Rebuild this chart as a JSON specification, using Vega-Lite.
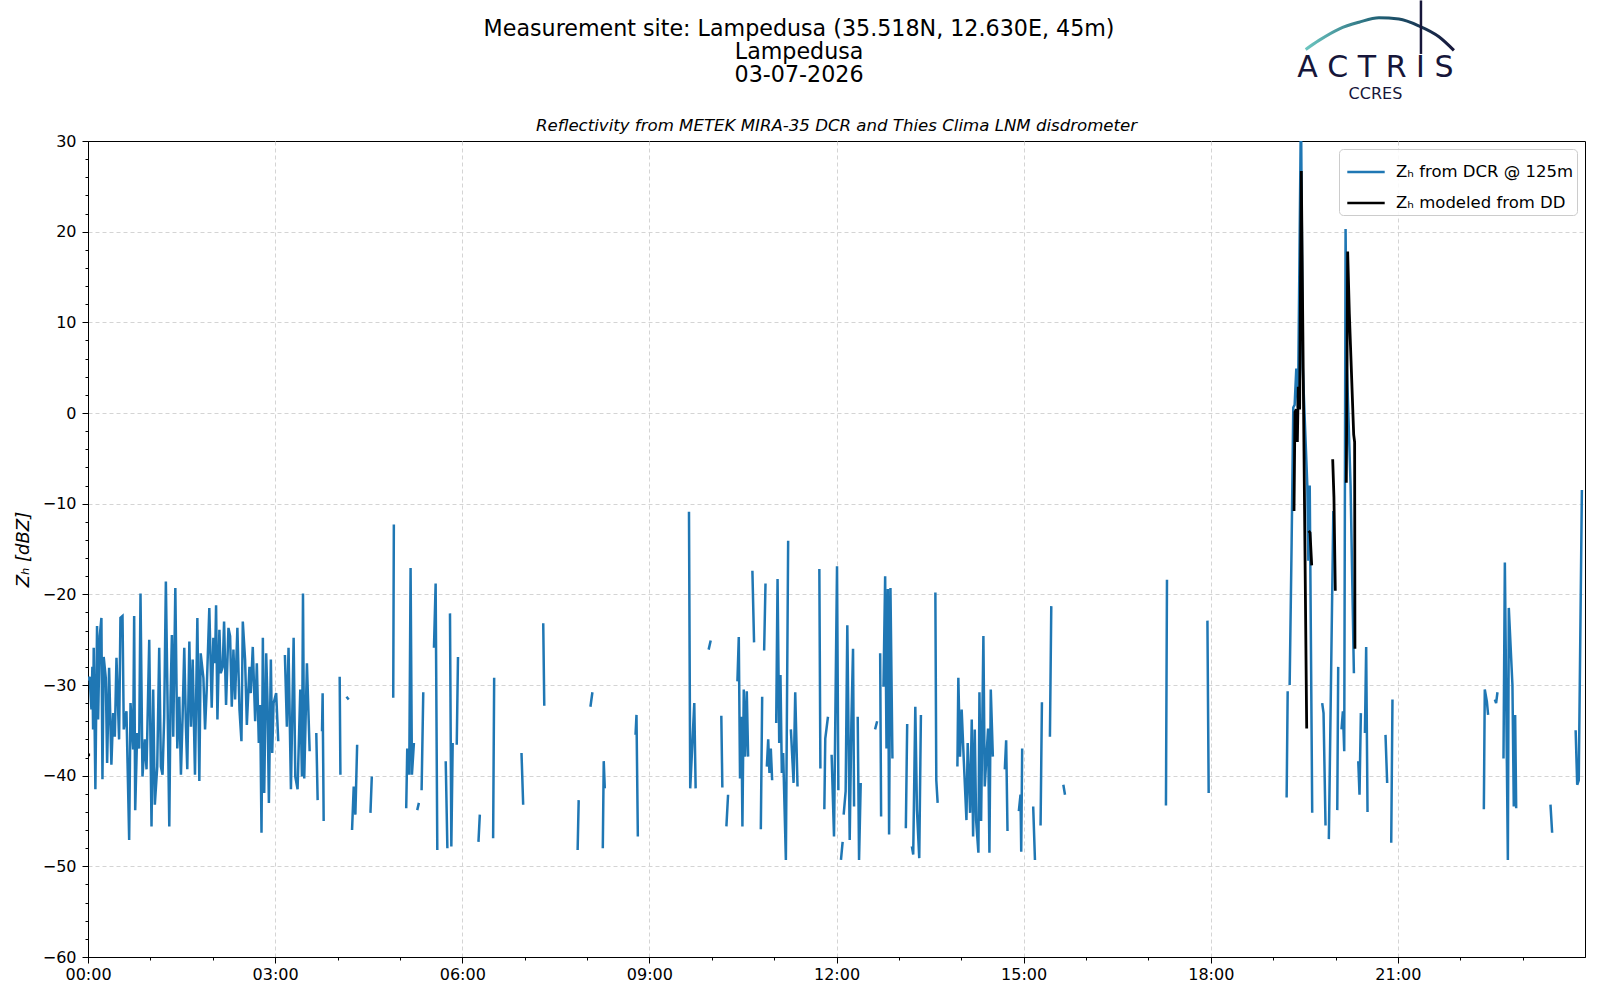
{
  "$schema": "https://vega.github.io/schema/vega-lite/v6.json",
  "background": "white",
  "autosize": "none",
  "padding": {"left": 88, "top": 141, "right": 15, "bottom": 43},
  "width": 1497,
  "height": 816,
  "config": {
    "font": "DejaVu Sans",
    "view": {"stroke": "black", "strokeWidth": 1},
    "axis": {"labelFont": "DejaVu Sans", "titleFont": "DejaVu Sans", "labelColor": "black", "titleColor": "black", "tickColor": "black", "domainColor": "black"},
    "legend": {"labelFont": "DejaVu Sans"},
    "text": {"font": "DejaVu Sans"}
  },
  "data": {
    "values": [
      {"s": "dcr", "t": 0, "z": -29.5}, {"s": "dcr", "t": 1.6, "z": -29.1}, {"s": "dcr", "t": 3.3, "z": -32.7}, {"s": "dcr", "t": 4.2, "z": -28.0},
      {"s": "dcr", "t": 4.9, "z": -34.9}, {"s": "dcr", "t": 5.5, "z": -25.9}, {"s": "dcr", "t": 7.1, "z": -41.5}, {"s": "dcr", "t": 8.7, "z": -23.5},
      {"s": "dcr", "t": 9.7, "z": -33.8}, {"s": "dcr", "t": 11.3, "z": -24.6}, {"s": "dcr", "t": 12.9, "z": -22.6}, {"s": "dcr", "t": 13.9, "z": -40.4},
      {"s": "dcr", "t": 15.1, "z": -26.9}, {"s": "dcr", "t": 17.1, "z": -29.2}, {"s": "dcr", "t": 18.4, "z": -38.6}, {"s": "dcr", "t": 20.3, "z": -28.1},
      {"s": "dcr", "t": 22.5, "z": -38.8}, {"s": "dcr", "t": 24.2, "z": -33.1}, {"s": "dcr", "t": 25.8, "z": -35.7}, {"s": "dcr", "t": 27.4, "z": -27.0},
      {"s": "dcr", "t": 29.9, "z": -36.0}, {"s": "dcr", "t": 31.2, "z": -22.6}, {"s": "dcr", "t": 33.2, "z": -22.4}, {"s": "dcr", "t": 34.4, "z": -34.9},
      {"s": "dcr", "t": 37.0, "z": -32.9}, {"s": "dcr", "t": 39.6, "z": -47.1}, {"s": "dcr", "t": 40.9, "z": -32.0}, {"s": "dcr", "t": 43.4, "z": -37.1},
      {"s": "dcr", "t": 44.4, "z": -22.4}, {"s": "dcr", "t": 45.4, "z": -43.8}, {"s": "dcr", "t": 47.3, "z": -35.3}, {"s": "dcr", "t": 49.2, "z": -37.0},
      {"s": "dcr", "t": 50.5, "z": -19.9}, {"s": "dcr", "t": 52.4, "z": -40.1}, {"s": "dcr", "t": 54.7, "z": -36.0}, {"s": "dcr", "t": 56.3, "z": -39.3},
      {"s": "dcr", "t": 58.9, "z": -25.0}, {"s": "dcr", "t": 61.1, "z": -45.6}, {"s": "dcr", "t": 62.7, "z": -30.5}, {"s": "dcr", "t": 64.3, "z": -43.2},
      {"s": "dcr", "t": 66.6, "z": -39.0}, {"s": "dcr", "t": 68.5, "z": -25.9}, {"s": "dcr", "t": 70.1, "z": -39.0}, {"s": "dcr", "t": 71.7, "z": -39.9},
      {"s": "dcr", "t": 73.3, "z": -33.5}, {"s": "dcr", "t": 74.9, "z": -18.6}, {"s": "dcr", "t": 78.2, "z": -45.6}, {"s": "dcr", "t": 79.4, "z": -31.4},
      {"s": "dcr", "t": 80.7, "z": -24.5}, {"s": "dcr", "t": 82.0, "z": -35.7}, {"s": "dcr", "t": 84.0, "z": -19.3}, {"s": "dcr", "t": 85.9, "z": -37.0},
      {"s": "dcr", "t": 87.8, "z": -31.3}, {"s": "dcr", "t": 89.4, "z": -39.9}, {"s": "dcr", "t": 91.0, "z": -33.5}, {"s": "dcr", "t": 92.6, "z": -25.9},
      {"s": "dcr", "t": 94.2, "z": -34.6}, {"s": "dcr", "t": 95.5, "z": -39.3}, {"s": "dcr", "t": 97.5, "z": -25.2}, {"s": "dcr", "t": 99.1, "z": -34.6},
      {"s": "dcr", "t": 100.7, "z": -27.2}, {"s": "dcr", "t": 102.9, "z": -39.9}, {"s": "dcr", "t": 105.2, "z": -22.6}, {"s": "dcr", "t": 107.1, "z": -40.6},
      {"s": "dcr", "t": 108.4, "z": -26.5}, {"s": "dcr", "t": 111.0, "z": -29.2}, {"s": "dcr", "t": 112.6, "z": -34.9}, {"s": "dcr", "t": 114.2, "z": -30.5},
      {"s": "dcr", "t": 116.7, "z": -21.5}, {"s": "dcr", "t": 119.0, "z": -32.5}, {"s": "dcr", "t": 120.6, "z": -24.8}, {"s": "dcr", "t": 122.2, "z": -27.6},
      {"s": "dcr", "t": 123.2, "z": -21.2}, {"s": "dcr", "t": 124.5, "z": -33.8}, {"s": "dcr", "t": 126.4, "z": -23.9}, {"s": "dcr", "t": 127.7, "z": -28.7},
      {"s": "dcr", "t": 129.6, "z": -28.0}, {"s": "dcr", "t": 130.9, "z": -23.0}, {"s": "dcr", "t": 132.8, "z": -32.2}, {"s": "dcr", "t": 135.1, "z": -23.7},
      {"s": "dcr", "t": 136.7, "z": -24.6}, {"s": "dcr", "t": 138.3, "z": -32.4}, {"s": "dcr", "t": 139.9, "z": -26.1}, {"s": "dcr", "t": 141.5, "z": -31.6},
      {"s": "dcr", "t": 143.7, "z": -23.7}, {"s": "dcr", "t": 145.7, "z": -32.7}, {"s": "dcr", "t": 147.6, "z": -36.2}, {"s": "dcr", "t": 148.9, "z": -23.0},
      {"s": "dcr", "t": 151.1, "z": -27.2}, {"s": "dcr", "t": 152.8, "z": -34.4}, {"s": "dcr", "t": 155.3, "z": -28.0}, {"s": "dcr", "t": 156.6, "z": -30.9},
      {"s": "dcr", "t": 158.5, "z": -25.8}, {"s": "dcr", "t": 160.8, "z": -34.0}, {"s": "dcr", "t": 162.4, "z": -27.6}, {"s": "dcr", "t": 164.3, "z": -36.4},
      {"s": "dcr", "t": 165.6, "z": -32.2}, {"s": "dcr", "t": 166.9, "z": -46.3}, {"s": "dcr", "t": 168.2, "z": -24.8}, {"s": "dcr", "t": 169.5, "z": -41.9},
      {"s": "dcr", "t": 171.4, "z": -26.5}, {"s": "dcr", "t": 172.7, "z": -32.0}, {"s": "dcr", "t": 174.0, "z": -43.0}, {"s": "dcr", "t": 175.9, "z": -27.2},
      {"s": "dcr", "t": 177.2, "z": -37.5}, {"s": "dcr", "t": 178.5, "z": -32.0}, {"s": "dcr", "t": 181.0, "z": -30.9}, {"s": "dcr", "t": 183.0, "z": -36.2},
      {"s": "dcr", "t": 183.2, "z": null},
      {"s": "dcr", "t": 189.4, "z": -26.7}, {"s": "dcr", "t": 191.3, "z": -34.6}, {"s": "dcr", "t": 192.9, "z": -25.9}, {"s": "dcr", "t": 195.2, "z": -41.5},
      {"s": "dcr", "t": 197.8, "z": -24.8}, {"s": "dcr", "t": 199.4, "z": -40.1}, {"s": "dcr", "t": 201.6, "z": -41.5}, {"s": "dcr", "t": 204.2, "z": -30.5},
      {"s": "dcr", "t": 205.8, "z": -40.1}, {"s": "dcr", "t": 206.8, "z": -19.9}, {"s": "dcr", "t": 208.0, "z": -40.3}, {"s": "dcr", "t": 210.6, "z": -27.6},
      {"s": "dcr", "t": 213.2, "z": -37.3}, {"s": "dcr", "t": 213.4, "z": null},
      {"s": "dcr", "t": 219.6, "z": -35.3}, {"s": "dcr", "t": 220.9, "z": -42.7}, {"s": "dcr", "t": 221.1, "z": null},
      {"s": "dcr", "t": 225.1, "z": -35.1}, {"s": "dcr", "t": 225.7, "z": -30.9}, {"s": "dcr", "t": 226.7, "z": -45.0}, {"s": "dcr", "t": 226.9, "z": null},
      {"s": "dcr", "t": 242.1, "z": -29.1}, {"s": "dcr", "t": 242.8, "z": -39.9}, {"s": "dcr", "t": 243.0, "z": null},
      {"s": "dcr", "t": 248.6, "z": -31.3}, {"s": "dcr", "t": 250.8, "z": -31.6}, {"s": "dcr", "t": 251.0, "z": null},
      {"s": "dcr", "t": 254.0, "z": -46.0}, {"s": "dcr", "t": 255.6, "z": -41.2}, {"s": "dcr", "t": 257.2, "z": -44.3}, {"s": "dcr", "t": 258.9, "z": -36.6}, {"s": "dcr", "t": 259.1, "z": null},
      {"s": "dcr", "t": 271.7, "z": -44.1}, {"s": "dcr", "t": 273.0, "z": -40.1}, {"s": "dcr", "t": 273.2, "z": null},
      {"s": "dcr", "t": 293.6, "z": -31.4}, {"s": "dcr", "t": 294.2, "z": -12.3}, {"s": "dcr", "t": 294.4, "z": null},
      {"s": "dcr", "t": 306.1, "z": -43.6}, {"s": "dcr", "t": 307.1, "z": -37.0}, {"s": "dcr", "t": 309.0, "z": -39.9}, {"s": "dcr", "t": 310.3, "z": -17.1},
      {"s": "dcr", "t": 311.6, "z": -39.9}, {"s": "dcr", "t": 313.5, "z": -36.4}, {"s": "dcr", "t": 313.7, "z": null},
      {"s": "dcr", "t": 316.7, "z": -43.8}, {"s": "dcr", "t": 318.3, "z": -43.0}, {"s": "dcr", "t": 318.5, "z": null},
      {"s": "dcr", "t": 320.9, "z": -41.6}, {"s": "dcr", "t": 322.5, "z": -30.8}, {"s": "dcr", "t": 322.7, "z": null},
      {"s": "dcr", "t": 332.8, "z": -25.9}, {"s": "dcr", "t": 334.4, "z": -18.8}, {"s": "dcr", "t": 336.0, "z": -48.2}, {"s": "dcr", "t": 336.2, "z": null},
      {"s": "dcr", "t": 344.1, "z": -38.4}, {"s": "dcr", "t": 345.7, "z": -48.0}, {"s": "dcr", "t": 345.9, "z": null},
      {"s": "dcr", "t": 348.2, "z": -22.1}, {"s": "dcr", "t": 349.5, "z": -47.8}, {"s": "dcr", "t": 350.8, "z": -36.4}, {"s": "dcr", "t": 351.0, "z": null},
      {"s": "dcr", "t": 354.7, "z": -36.6}, {"s": "dcr", "t": 355.9, "z": -26.9}, {"s": "dcr", "t": 356.1, "z": null},
      {"s": "dcr", "t": 375.6, "z": -47.3}, {"s": "dcr", "t": 376.9, "z": -44.3}, {"s": "dcr", "t": 377.1, "z": null},
      {"s": "dcr", "t": 389.7, "z": -46.9}, {"s": "dcr", "t": 390.7, "z": -29.2}, {"s": "dcr", "t": 390.9, "z": null},
      {"s": "dcr", "t": 417.0, "z": -37.5}, {"s": "dcr", "t": 418.6, "z": -43.2}, {"s": "dcr", "t": 418.8, "z": null},
      {"s": "dcr", "t": 437.9, "z": -23.2}, {"s": "dcr", "t": 438.9, "z": -32.3}, {"s": "dcr", "t": 439.1, "z": null},
      {"s": "dcr", "t": 471.0, "z": -48.2}, {"s": "dcr", "t": 472.0, "z": -42.7}, {"s": "dcr", "t": 472.2, "z": null},
      {"s": "dcr", "t": 483.3, "z": -32.4}, {"s": "dcr", "t": 485.2, "z": -30.8}, {"s": "dcr", "t": 485.4, "z": null},
      {"s": "dcr", "t": 495.2, "z": -48.0}, {"s": "dcr", "t": 496.1, "z": -38.4}, {"s": "dcr", "t": 497.1, "z": -41.4}, {"s": "dcr", "t": 497.3, "z": null},
      {"s": "dcr", "t": 526.7, "z": -35.5}, {"s": "dcr", "t": 527.6, "z": -33.3}, {"s": "dcr", "t": 528.9, "z": -46.7}, {"s": "dcr", "t": 529.1, "z": null},
      {"s": "dcr", "t": 578.1, "z": -10.9}, {"s": "dcr", "t": 579.3, "z": -41.4}, {"s": "dcr", "t": 583.2, "z": -32.0}, {"s": "dcr", "t": 584.5, "z": -41.4}, {"s": "dcr", "t": 584.7, "z": null},
      {"s": "dcr", "t": 597.0, "z": -26.1}, {"s": "dcr", "t": 599.0, "z": -25.1}, {"s": "dcr", "t": 599.2, "z": null},
      {"s": "dcr", "t": 609.2, "z": -33.4}, {"s": "dcr", "t": 610.2, "z": -41.3}, {"s": "dcr", "t": 610.4, "z": null},
      {"s": "dcr", "t": 614.1, "z": -45.6}, {"s": "dcr", "t": 615.7, "z": -42.1}, {"s": "dcr", "t": 615.9, "z": null},
      {"s": "dcr", "t": 624.7, "z": -29.6}, {"s": "dcr", "t": 626.0, "z": -24.7}, {"s": "dcr", "t": 627.2, "z": -40.3}, {"s": "dcr", "t": 628.5, "z": -33.5},
      {"s": "dcr", "t": 629.5, "z": -45.6}, {"s": "dcr", "t": 630.8, "z": -30.5}, {"s": "dcr", "t": 632.1, "z": -37.9}, {"s": "dcr", "t": 633.7, "z": -30.7},
      {"s": "dcr", "t": 635.0, "z": -37.9}, {"s": "dcr", "t": 635.2, "z": null},
      {"s": "dcr", "t": 639.1, "z": -17.4}, {"s": "dcr", "t": 640.7, "z": -25.3}, {"s": "dcr", "t": 640.9, "z": null},
      {"s": "dcr", "t": 647.2, "z": -45.9}, {"s": "dcr", "t": 648.5, "z": -31.3}, {"s": "dcr", "t": 648.7, "z": null},
      {"s": "dcr", "t": 650.4, "z": -26.2}, {"s": "dcr", "t": 651.7, "z": -18.8}, {"s": "dcr", "t": 651.9, "z": null},
      {"s": "dcr", "t": 653.0, "z": -39.0}, {"s": "dcr", "t": 654.3, "z": -36.0}, {"s": "dcr", "t": 655.5, "z": -39.7}, {"s": "dcr", "t": 656.8, "z": -37.0},
      {"s": "dcr", "t": 658.1, "z": -40.5}, {"s": "dcr", "t": 658.3, "z": null},
      {"s": "dcr", "t": 662.0, "z": -34.2}, {"s": "dcr", "t": 663.3, "z": -18.3}, {"s": "dcr", "t": 664.9, "z": -36.4}, {"s": "dcr", "t": 666.1, "z": -28.9},
      {"s": "dcr", "t": 667.4, "z": -39.7}, {"s": "dcr", "t": 668.7, "z": -37.5}, {"s": "dcr", "t": 671.3, "z": -49.3}, {"s": "dcr", "t": 673.5, "z": -14.1},
      {"s": "dcr", "t": 673.7, "z": null},
      {"s": "dcr", "t": 676.1, "z": -34.9}, {"s": "dcr", "t": 678.7, "z": -40.8}, {"s": "dcr", "t": 680.3, "z": -30.8}, {"s": "dcr", "t": 682.5, "z": -41.2},
      {"s": "dcr", "t": 682.7, "z": null},
      {"s": "dcr", "t": 703.5, "z": -17.2}, {"s": "dcr", "t": 704.5, "z": -39.2}, {"s": "dcr", "t": 704.7, "z": null},
      {"s": "dcr", "t": 708.3, "z": -43.7}, {"s": "dcr", "t": 709.2, "z": -35.9}, {"s": "dcr", "t": 711.8, "z": -33.5}, {"s": "dcr", "t": 712.0, "z": null},
      {"s": "dcr", "t": 715.3, "z": -37.7}, {"s": "dcr", "t": 717.6, "z": -46.7}, {"s": "dcr", "t": 720.5, "z": -16.9}, {"s": "dcr", "t": 721.8, "z": -41.6},
      {"s": "dcr", "t": 722.0, "z": null},
      {"s": "dcr", "t": 724.3, "z": -49.3}, {"s": "dcr", "t": 725.9, "z": -47.3}, {"s": "dcr", "t": 726.1, "z": null},
      {"s": "dcr", "t": 726.9, "z": -44.3}, {"s": "dcr", "t": 728.8, "z": -41.7}, {"s": "dcr", "t": 730.4, "z": -23.4}, {"s": "dcr", "t": 732.7, "z": -47.1},
      {"s": "dcr", "t": 734.3, "z": -34.2}, {"s": "dcr", "t": 735.9, "z": -26.0}, {"s": "dcr", "t": 736.9, "z": -43.4}, {"s": "dcr", "t": 737.1, "z": null},
      {"s": "dcr", "t": 740.4, "z": -33.5}, {"s": "dcr", "t": 741.7, "z": -49.3}, {"s": "dcr", "t": 743.3, "z": -40.8}, {"s": "dcr", "t": 743.5, "z": null},
      {"s": "dcr", "t": 757.1, "z": -34.9}, {"s": "dcr", "t": 759.1, "z": -34.0}, {"s": "dcr", "t": 759.3, "z": null},
      {"s": "dcr", "t": 762.0, "z": -26.5}, {"s": "dcr", "t": 762.9, "z": -44.5}, {"s": "dcr", "t": 763.1, "z": null},
      {"s": "dcr", "t": 765.2, "z": -30.2}, {"s": "dcr", "t": 766.8, "z": -18.0}, {"s": "dcr", "t": 768.1, "z": -37.0}, {"s": "dcr", "t": 769.4, "z": -19.4},
      {"s": "dcr", "t": 770.6, "z": -46.5}, {"s": "dcr", "t": 771.9, "z": -19.3}, {"s": "dcr", "t": 773.8, "z": -38.1}, {"s": "dcr", "t": 774.0, "z": null},
      {"s": "dcr", "t": 786.7, "z": -45.8}, {"s": "dcr", "t": 788.0, "z": -34.3}, {"s": "dcr", "t": 788.2, "z": null},
      {"s": "dcr", "t": 792.5, "z": -47.8}, {"s": "dcr", "t": 793.8, "z": -48.7}, {"s": "dcr", "t": 795.8, "z": -32.4}, {"s": "dcr", "t": 797.4, "z": -43.8},
      {"s": "dcr", "t": 799.6, "z": -49.1}, {"s": "dcr", "t": 801.2, "z": -33.3}, {"s": "dcr", "t": 801.4, "z": null},
      {"s": "dcr", "t": 815.1, "z": -19.8}, {"s": "dcr", "t": 816.0, "z": -40.5}, {"s": "dcr", "t": 817.3, "z": -43.0}, {"s": "dcr", "t": 817.5, "z": null},
      {"s": "dcr", "t": 836.3, "z": -39.0}, {"s": "dcr", "t": 837.2, "z": -29.2}, {"s": "dcr", "t": 838.8, "z": -37.9}, {"s": "dcr", "t": 840.4, "z": -32.7},
      {"s": "dcr", "t": 842.4, "z": -38.2}, {"s": "dcr", "t": 845.0, "z": -44.9}, {"s": "dcr", "t": 846.2, "z": -36.4}, {"s": "dcr", "t": 848.5, "z": -44.1},
      {"s": "dcr", "t": 850.1, "z": -33.8}, {"s": "dcr", "t": 851.4, "z": -46.7}, {"s": "dcr", "t": 853.0, "z": -34.9}, {"s": "dcr", "t": 854.3, "z": -44.9},
      {"s": "dcr", "t": 856.5, "z": -48.5}, {"s": "dcr", "t": 857.5, "z": -30.8}, {"s": "dcr", "t": 859.1, "z": -45.0}, {"s": "dcr", "t": 861.3, "z": -24.6},
      {"s": "dcr", "t": 862.6, "z": -41.2}, {"s": "dcr", "t": 865.8, "z": -34.8}, {"s": "dcr", "t": 867.1, "z": -48.5}, {"s": "dcr", "t": 868.4, "z": -30.5},
      {"s": "dcr", "t": 870.4, "z": -37.9}, {"s": "dcr", "t": 870.6, "z": null},
      {"s": "dcr", "t": 881.9, "z": -39.3}, {"s": "dcr", "t": 883.2, "z": -36.1}, {"s": "dcr", "t": 884.5, "z": -46.1}, {"s": "dcr", "t": 884.7, "z": null},
      {"s": "dcr", "t": 895.4, "z": -43.9}, {"s": "dcr", "t": 897.0, "z": -42.1}, {"s": "dcr", "t": 897.7, "z": -48.4}, {"s": "dcr", "t": 898.6, "z": -37.0},
      {"s": "dcr", "t": 898.8, "z": null},
      {"s": "dcr", "t": 909.2, "z": -43.4}, {"s": "dcr", "t": 910.9, "z": -49.3}, {"s": "dcr", "t": 911.1, "z": null},
      {"s": "dcr", "t": 916.3, "z": -45.5}, {"s": "dcr", "t": 917.6, "z": -31.9}, {"s": "dcr", "t": 917.8, "z": null},
      {"s": "dcr", "t": 925.3, "z": -35.7}, {"s": "dcr", "t": 926.6, "z": -21.3}, {"s": "dcr", "t": 926.8, "z": null},
      {"s": "dcr", "t": 938.2, "z": -41.0}, {"s": "dcr", "t": 939.8, "z": -42.1}, {"s": "dcr", "t": 940.0, "z": null},
      {"s": "dcr", "t": 1036.9, "z": -43.3}, {"s": "dcr", "t": 1037.9, "z": -18.4}, {"s": "dcr", "t": 1038.1, "z": null},
      {"s": "dcr", "t": 1076.8, "z": -22.9}, {"s": "dcr", "t": 1078.0, "z": -41.9}, {"s": "dcr", "t": 1078.2, "z": null},
      {"s": "dcr", "t": 1153.0, "z": -42.4}, {"s": "dcr", "t": 1154.0, "z": -30.7}, {"s": "dcr", "t": 1154.2, "z": null},
      {"s": "dcr", "t": 1155.9, "z": -30.0}, {"s": "dcr", "t": 1157.8, "z": -14.3}, {"s": "dcr", "t": 1159.4, "z": 0.6}, {"s": "dcr", "t": 1160.7, "z": 0.9},
      {"s": "dcr", "t": 1162.3, "z": 4.9}, {"s": "dcr", "t": 1163.9, "z": 0.6}, {"s": "dcr", "t": 1166.8, "z": 34}, {"s": "dcr", "t": 1168.5, "z": 5},
      {"s": "dcr", "t": 1172.9, "z": -8.0}, {"s": "dcr", "t": 1173.9, "z": -16.3}, {"s": "dcr", "t": 1175.2, "z": -8.0}, {"s": "dcr", "t": 1177.6, "z": -44.1},
      {"s": "dcr", "t": 1177.8, "z": null},
      {"s": "dcr", "t": 1187.2, "z": -32.0}, {"s": "dcr", "t": 1188.5, "z": -33.1}, {"s": "dcr", "t": 1190.4, "z": -45.5}, {"s": "dcr", "t": 1190.6, "z": null},
      {"s": "dcr", "t": 1193.6, "z": -47.0}, {"s": "dcr", "t": 1197.9, "z": -10.8}, {"s": "dcr", "t": 1198.1, "z": null},
      {"s": "dcr", "t": 1201.7, "z": -43.8}, {"s": "dcr", "t": 1202.6, "z": -28.0}, {"s": "dcr", "t": 1202.8, "z": null},
      {"s": "dcr", "t": 1205.8, "z": -34.9}, {"s": "dcr", "t": 1207.1, "z": -32.9}, {"s": "dcr", "t": 1208.4, "z": -37.3}, {"s": "dcr", "t": 1209.7, "z": 20.3},
      {"s": "dcr", "t": 1211.0, "z": 5.0}, {"s": "dcr", "t": 1214.5, "z": -8.0}, {"s": "dcr", "t": 1217.7, "z": -28.7}, {"s": "dcr", "t": 1217.9, "z": null},
      {"s": "dcr", "t": 1221.9, "z": -38.4}, {"s": "dcr", "t": 1223.1, "z": -42.1}, {"s": "dcr", "t": 1224.4, "z": -33.1}, {"s": "dcr", "t": 1224.6, "z": null},
      {"s": "dcr", "t": 1228.3, "z": -35.3}, {"s": "dcr", "t": 1229.5, "z": -25.8}, {"s": "dcr", "t": 1230.8, "z": -44.0}, {"s": "dcr", "t": 1231.0, "z": null},
      {"s": "dcr", "t": 1248.1, "z": -35.5}, {"s": "dcr", "t": 1249.7, "z": -40.8}, {"s": "dcr", "t": 1249.9, "z": null},
      {"s": "dcr", "t": 1253.6, "z": -47.4}, {"s": "dcr", "t": 1254.8, "z": -31.6}, {"s": "dcr", "t": 1255.0, "z": null},
      {"s": "dcr", "t": 1342.7, "z": -43.7}, {"s": "dcr", "t": 1343.6, "z": -30.5}, {"s": "dcr", "t": 1345.6, "z": -31.8}, {"s": "dcr", "t": 1346.8, "z": -33.3},
      {"s": "dcr", "t": 1347.0, "z": null},
      {"s": "dcr", "t": 1353.3, "z": -31.6}, {"s": "dcr", "t": 1354.5, "z": -32.0}, {"s": "dcr", "t": 1355.8, "z": -30.8}, {"s": "dcr", "t": 1356.0, "z": null},
      {"s": "dcr", "t": 1361.6, "z": -38.1}, {"s": "dcr", "t": 1362.9, "z": -16.5}, {"s": "dcr", "t": 1365.8, "z": -49.3}, {"s": "dcr", "t": 1366.7, "z": -21.5},
      {"s": "dcr", "t": 1370.2, "z": -30.0}, {"s": "dcr", "t": 1371.5, "z": -43.4}, {"s": "dcr", "t": 1372.8, "z": -33.3}, {"s": "dcr", "t": 1373.8, "z": -43.6},
      {"s": "dcr", "t": 1374.0, "z": null},
      {"s": "dcr", "t": 1406.8, "z": -43.2}, {"s": "dcr", "t": 1408.4, "z": -46.3}, {"s": "dcr", "t": 1408.6, "z": null},
      {"s": "dcr", "t": 1431.0, "z": -35.0}, {"s": "dcr", "t": 1432.5, "z": -41.0}, {"s": "dcr", "t": 1434.0, "z": -40.5}, {"s": "dcr", "t": 1437.0, "z": -8.5},
      {"s": "dd", "t": 0, "z": -37.7}, {"s": "dd", "t": 2, "z": -37.7}, {"s": "dd", "t": 2.2, "z": null},
      {"s": "dd", "t": 1160.1, "z": -10.8}, {"s": "dd", "t": 1161.0, "z": 0.1}, {"s": "dd", "t": 1162.3, "z": 0.4}, {"s": "dd", "t": 1163.3, "z": -3.2},
      {"s": "dd", "t": 1164.2, "z": 2.9}, {"s": "dd", "t": 1165.5, "z": 0.4}, {"s": "dd", "t": 1167.1, "z": 26.7}, {"s": "dd", "t": 1169.7, "z": -4.2},
      {"s": "dd", "t": 1172.3, "z": -34.8}, {"s": "dd", "t": 1172.5, "z": null},
      {"s": "dd", "t": 1174.2, "z": -13.0}, {"s": "dd", "t": 1175.5, "z": -13.2}, {"s": "dd", "t": 1177.1, "z": -16.8}, {"s": "dd", "t": 1177.3, "z": null},
      {"s": "dd", "t": 1197.3, "z": -5.1}, {"s": "dd", "t": 1198.5, "z": -9.3}, {"s": "dd", "t": 1199.8, "z": -19.6}, {"s": "dd", "t": 1200.0, "z": null},
      {"s": "dd", "t": 1210.4, "z": -7.7}, {"s": "dd", "t": 1211.7, "z": 17.8}, {"s": "dd", "t": 1213.3, "z": 11.0}, {"s": "dd", "t": 1217.5, "z": -2.4},
      {"s": "dd", "t": 1218.4, "z": -3.2}, {"s": "dd", "t": 1218.7, "z": -26.0}
    ]
  },
  "layer": [
    {
      "transform": [{"filter": "datum.s === 'dcr'"}],
      "mark": {"type": "line", "clip": true, "strokeWidth": 2.5, "invalid": "break-paths-show-domains"},
      "encoding": {
        "x": {
          "field": "t", "type": "quantitative",
          "scale": {"domain": [0, 1440], "nice": false, "zero": false},
          "axis": {
            "orient": "bottom", "title": null, "grid": false,
            "values": [0, 180, 360, 540, 720, 900, 1080, 1260],
            "labelExpr": "(datum.value < 600 ? '0' : '') + datum.value / 60 + ':00'",
            "labelFontSize": 16, "labelPadding": 3, "labelOverlap": false, "labelFlush": false,
            "tickSize": 6, "tickWidth": 1
          }
        },
        "y": {
          "field": "z", "type": "quantitative",
          "scale": {"domain": [-60, 30], "nice": false, "zero": false},
          "axis": {
            "orient": "left", "grid": false,
            "title": "Zₕ [dBZ]", "titleFontSize": 18, "titleFontStyle": "italic", "titleFontWeight": "normal", "titlePadding": 10,
            "values": [-60, -50, -40, -30, -20, -10, 0, 10, 20, 30],
            "labelExpr": "replace(datum.label, '-', '−')",
            "labelFontSize": 16, "labelPadding": 6,
            "tickSize": 6, "tickWidth": 1
          }
        },
        "color": {
          "field": "s", "type": "nominal",
          "scale": {"domain": ["dcr", "dd"], "range": ["#1f77b4", "#000000"]},
          "legend": {
            "title": null, "orient": "top-right", "offset": 8,
            "labelExpr": "datum.value == 'dcr' ? 'Zₕ from DCR @ 125m' : 'Zₕ modeled from DD'",
            "labelFontSize": 16.5, "labelColor": "black", "labelLimit": 400, "labelOffset": 10,
            "symbolType": "stroke", "symbolSize": 1400, "symbolStrokeWidth": 2.5, "symbolOffset": 4,
            "strokeColor": "#cccccc", "fillColor": "rgba(255,255,255,0.85)",
            "padding": 3, "cornerRadius": 4, "rowPadding": 2
          }
        }
      }
    },
    {
      "transform": [{"filter": "datum.s === 'dd'"}],
      "mark": {"type": "line", "clip": true, "strokeWidth": 2.8, "invalid": "break-paths-show-domains"},
      "encoding": {
        "x": {
          "field": "t", "type": "quantitative",
          "scale": {"domain": [0, 1440], "nice": false, "zero": false},
          "axis": {
            "orient": "bottom", "title": null, "labels": false, "grid": false, "domain": false,
            "values": [60, 120, 240, 300, 420, 480, 600, 660, 780, 840, 960, 1020, 1140, 1200, 1320, 1380],
            "tickSize": 3, "tickWidth": 1
          }
        },
        "y": {
          "field": "z", "type": "quantitative",
          "scale": {"domain": [-60, 30], "nice": false, "zero": false},
          "axis": {
            "orient": "left", "title": null, "labels": false, "grid": false, "domain": false,
            "values": [-58, -56, -54, -52, -48, -46, -44, -42, -38, -36, -34, -32, -28, -26, -24, -22, -18, -16, -14, -12, -8, -6, -4, -2, 2, 4, 6, 8, 12, 14, 16, 18, 22, 24, 26, 28],
            "tickSize": 3, "tickWidth": 1
          }
        },
        "color": {
          "field": "s", "type": "nominal",
          "scale": {"domain": ["dcr", "dd"], "range": ["#1f77b4", "#000000"]}
        }
      }
    },
    {
      "data": {"values": [{}]},
      "mark": {"type": "text", "fontSize": 22.2, "lineHeight": 23, "align": "center", "baseline": "middle", "color": "black"},
      "encoding": {
        "x": {
          "datum": 684, "type": "quantitative", "scale": {"domain": [0, 1440], "nice": false, "zero": false},
          "axis": {"orient": "bottom", "title": null, "labels": false, "ticks": false, "domain": false,
            "values": [180, 360, 540, 720, 900, 1080, 1260],
            "grid": true, "gridDash": [4, 3], "gridColor": "#d4d4d4", "gridWidth": 1}
        },
        "y": {
          "datum": 42.3, "type": "quantitative", "scale": {"domain": [-60, 30], "nice": false, "zero": false},
          "axis": {"orient": "left", "title": null, "labels": false, "ticks": false, "domain": false,
            "values": [-50, -40, -30, -20, -10, 0, 10, 20],
            "grid": true, "gridDash": [4, 3], "gridColor": "#d4d4d4", "gridWidth": 1}
        },
        "text": {"value": ["Measurement site: Lampedusa (35.518N, 12.630E, 45m)", "Lampedusa", "03-07-2026"]}
      }
    },
    {
      "data": {"values": [{}]},
      "mark": {"type": "text", "fontSize": 16.6, "fontStyle": "italic", "align": "center", "baseline": "middle", "color": "black"},
      "encoding": {
        "x": {"datum": 720, "type": "quantitative", "scale": {"domain": [0, 1440], "nice": false, "zero": false}, "axis": null},
        "y": {"datum": 31.7, "type": "quantitative", "scale": {"domain": [-60, 30], "nice": false, "zero": false}, "axis": null},
        "text": {"value": "Reflectivity from METEK MIRA-35 DCR and Thies Clima LNM disdrometer"}
      }
    },
    {
      "data": {"values": [
        {"t": 1171.3, "z": 40.1}, {"t": 1184.1, "z": 41.1}, {"t": 1203.3, "z": 42.35}, {"t": 1222.6, "z": 43.1}, {"t": 1241.8, "z": 43.6},
        {"t": 1261.0, "z": 43.45}, {"t": 1280.2, "z": 42.7}, {"t": 1299.5, "z": 41.5}, {"t": 1313.9, "z": 40.0}
      ]},
      "mark": {
        "type": "line", "strokeWidth": 3, "clip": false, "interpolate": "monotone",
        "stroke": {"gradient": "linear", "x1": 0, "y1": 0, "x2": 1, "y2": 0, "stops": [
          {"offset": 0, "color": "#6cc6c0"}, {"offset": 0.5, "color": "#1f5f74"}, {"offset": 1, "color": "#16163a"}
        ]}
      },
      "encoding": {
        "x": {"field": "t", "type": "quantitative", "scale": {"domain": [0, 1440], "nice": false, "zero": false}, "axis": null},
        "y": {"field": "z", "type": "quantitative", "scale": {"domain": [-60, 30], "nice": false, "zero": false}, "axis": null}
      }
    },
    {
      "data": {"values": [{}]},
      "mark": {"type": "rule", "color": "#16163a", "strokeWidth": 2.5, "clip": false},
      "encoding": {
        "x": {"datum": 1282.2, "type": "quantitative", "scale": {"domain": [0, 1440], "nice": false, "zero": false}, "axis": null},
        "y": {"datum": 45.5, "type": "quantitative", "scale": {"domain": [-60, 30], "nice": false, "zero": false}, "axis": null},
        "y2": {"datum": 39.6}
      }
    },
    {
      "data": {"values": [{}]},
      "mark": {"type": "text", "fontSize": 30, "align": "center", "baseline": "middle", "color": "#16163a"},
      "encoding": {
        "x": {"datum": 1238.4, "type": "quantitative", "scale": {"domain": [0, 1440], "nice": false, "zero": false}, "axis": null},
        "y": {"datum": 38.0, "type": "quantitative", "scale": {"domain": [-60, 30], "nice": false, "zero": false}, "axis": null},
        "text": {"value": "A C T R I S"}
      }
    },
    {
      "data": {"values": [{}]},
      "mark": {"type": "text", "fontSize": 16, "align": "center", "baseline": "middle", "color": "#16163a"},
      "encoding": {
        "x": {"datum": 1238.4, "type": "quantitative", "scale": {"domain": [0, 1440], "nice": false, "zero": false}, "axis": null},
        "y": {"datum": 35.2, "type": "quantitative", "scale": {"domain": [-60, 30], "nice": false, "zero": false}, "axis": null},
        "text": {"value": "CCRES"}
      }
    }
  ],
  "resolve": {"axis": {"x": "independent", "y": "independent"}}
}
